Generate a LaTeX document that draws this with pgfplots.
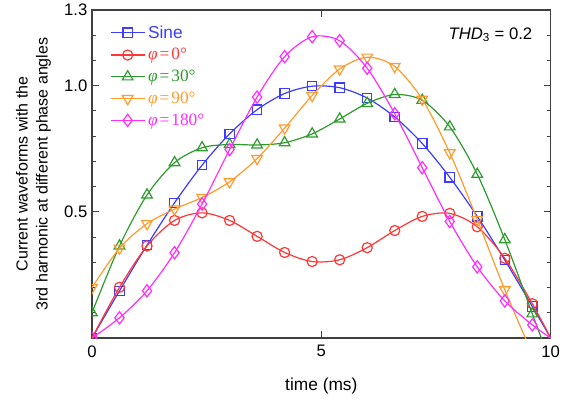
\documentclass[border=0pt]{standalone}
\usepackage{fontspec}
\setmainfont{Liberation Sans}
\newfontfamily\tms{Liberation Serif}
\usepackage{pgfplots}
\pgfplotsset{compat=1.18}

\definecolor{cblue}{RGB}{60,60,255}
\definecolor{cred}{RGB}{255,55,55}
\definecolor{cgreen}{RGB}{45,155,45}
\definecolor{corange}{RGB}{255,155,45}
\definecolor{cmag}{RGB}{255,45,255}

\newcommand{\phient}[2]{\textcolor{#1}{\tms\itshape φ\upshape\kern1.5pt=\kern1.5pt#2°}}

\begin{document}
\begin{tikzpicture}
\begin{axis}[
  name=ax,
  scale only axis,
  width=344pt, height=246pt,
  xmin=0, xmax=10, ymin=0, ymax=1.3,
  xtick={0,5,10},
  ytick={0.5,1.0,1.3},
  yticklabels={0.5,1.0,1.3},
  minor ytick={0.1,0.2,...,1.2},
  tick align=inside,
  major tick length=5pt, minor tick length=3pt,
  axis line style={black!75, line width=0.8pt},
  tick style={black!75, line width=0.8pt},
  /pgf/number format/assume math mode=true,
  tick label style={font=\fontsize{12.5}{14}\selectfont},
  xticklabel shift=2pt,
  xlabel style={font=\fontsize{13}{15}\selectfont},
  xlabel shift=9pt,
  ylabel style={font=\fontsize{12}{15}\selectfont, align=center},
  ylabel shift=3pt,
  xlabel={time (ms)},
  ylabel={Current waveforms with the\\3rd harmonic at different phase angles},
  clip marker paths=true,
  every axis plot/.append style={line width=0.9pt, smooth, mark options={fill=white, solid}},
  mark indices={1,2,3,4,5,6,7,8,9,10,11,12,13,14,15,16,17},
  legend style={at={(0.03,0.97)}, anchor=north west, draw=none, fill=none,
    font=\fontsize{13}{15}\selectfont, row sep=2.2pt},
  legend cell align=left,
  legend image code/.code={\draw[mark indices={2}] plot coordinates {(0cm,0cm)(0.45cm,0cm)(0.9cm,0cm)};},
]
\addplot[cblue, mark=square, mark size=3.5pt] coordinates {
(0,0)(0.6,0.187)(1.2,0.368)(1.8,0.536)(2.4,0.685)(3.0,0.809)(3.6,0.905)(4.2,0.969)(4.8,0.998)
(5.4,0.992)(6.0,0.951)(6.6,0.876)(7.2,0.771)(7.8,0.637)(8.4,0.482)(9.0,0.309)(9.6,0.125)(10,0)};
\addlegendentry{\textcolor{cblue}{Sine}}
\addplot[cred, mark=o, mark size=3.8pt] coordinates {
(0,0)(0.6,0.201)(1.2,0.365)(1.8,0.466)(2.4,0.496)(3.0,0.466)(3.6,0.403)(4.2,0.339)(4.8,0.303)
(5.4,0.310)(6.0,0.358)(6.6,0.426)(7.2,0.482)(7.8,0.494)(8.4,0.441)(9.0,0.316)(9.6,0.136)(10,0)};
\addlegendentry{\phient{cred}{0}}
\addplot[cgreen, mark=triangle, mark size=4.6pt] coordinates {
(0,0.100)(0.6,0.365)(1.2,0.567)(1.8,0.695)(2.4,0.754)(3.0,0.767)(3.6,0.765)(4.2,0.774)(4.8,0.809)
(5.4,0.868)(6.0,0.930)(6.6,0.965)(7.2,0.942)(7.8,0.837)(8.4,0.649)(9.0,0.390)(9.6,0.096)(10,-0.100)};
\addlegendentry{\phient{cgreen}{30}}
\addplot[corange, mark=triangle, mark options={rotate=180}, mark size=4.6pt] coordinates {
(0,0.200)(0.6,0.356)(1.2,0.453)(1.8,0.511)(2.4,0.557)(3.0,0.619)(3.6,0.711)(4.2,0.832)(4.8,0.961)
(5.4,1.066)(6.0,1.113)(6.6,1.076)(7.2,0.946)(7.8,0.734)(8.4,0.469)(9.0,0.191)(9.6,-0.061)(10,-0.200)};
\addlegendentry{\phient{corange}{90}}
\addplot[cmag, mark=diamond, mark size=4.6pt] coordinates {
(0,0)(0.6,0.080)(1.2,0.187)(1.8,0.338)(2.4,0.531)(3.0,0.747)(3.6,0.955)(4.2,1.115)(4.8,1.194)
(5.4,1.178)(6.0,1.069)(6.6,0.889)(7.2,0.675)(7.8,0.462)(8.4,0.282)(9.0,0.147)(9.6,0.052)(10,0)};
\addlegendentry{\phient{cmag}{180}}
\node[anchor=east, font=\fontsize{12.5}{14}\selectfont] at (rel axis cs:0.97,0.925) {\textit{THD}\textsubscript{3} = 0.2};
\end{axis}
\pgfresetboundingbox
\path[use as bounding box] (ax.south west) ++(-69pt,-50.25pt) rectangle ++(426pt,303.75pt);
\end{tikzpicture}
\end{document}
